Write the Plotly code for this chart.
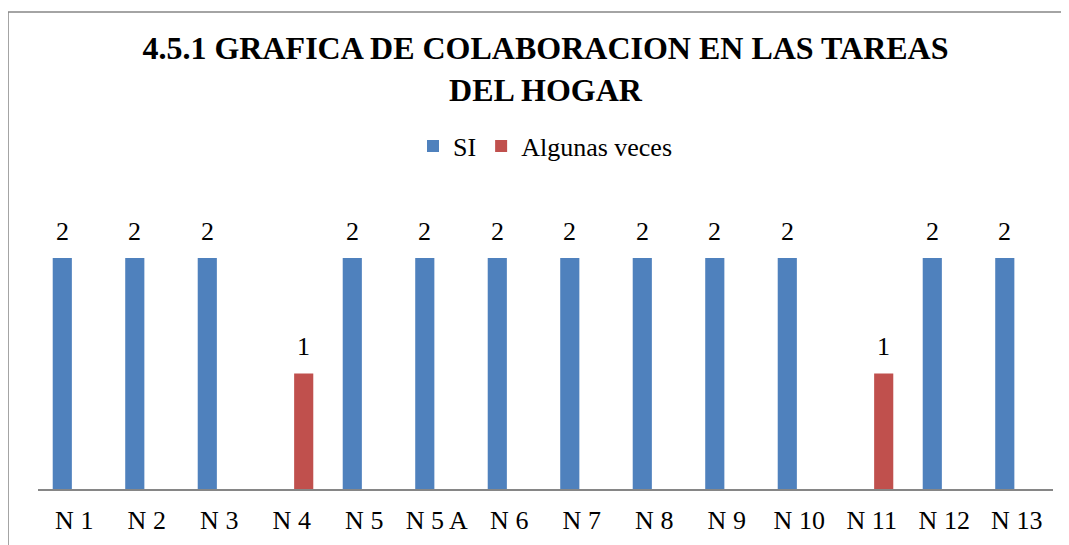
import plotly.graph_objects as go

categories = ["N 1", "N 2", "N 3", "N 4", "N 5", "N 5 A", "N 6", "N 7", "N 8", "N 9", "N 10", "N 11", "N 12", "N 13"]
si_values = [2, 2, 2, None, 2, 2, 2, 2, 2, 2, 2, None, 2, 2]
algunas_values = [None, None, None, 1, None, None, None, None, None, None, None, 1, None, None]
title_lines = ["4.5.1 GRAFICA DE COLABORACION EN LAS TAREAS", "DEL HOGAR"]

FONT = "Liberation Serif"
BLUE = "#4F81BD"
RED = "#C0504D"

# figure pixel geometry (page body has an 8px margin)
L, R, T, B = 30, 24, 142, 64
W, H = 1069, 545
PW, PH = W - L - R, H - T - B
Y_MAX = PH / 115.5

fig = go.Figure()
fig.add_trace(go.Bar(
    x=categories, y=si_values, name="SI",
    marker=dict(color=BLUE, line=dict(width=0)),
))
fig.add_trace(go.Bar(
    x=categories, y=algunas_values, name="Algunas veces",
    marker=dict(color=RED, line=dict(width=0)),
))

annotations = []
for series, shift in ((si_values, -12), (algunas_values, 12)):
    for cat, val in zip(categories, series):
        if val is None:
            continue
        annotations.append(dict(
            x=cat, y=val, xref="x", yref="y", text=str(val), showarrow=False,
            xshift=shift, yshift=27, yanchor="middle",
            font=dict(family=FONT, size=26, color="black"),
        ))

fig.update_layout(
    width=W, height=H,
    margin=dict(l=L, r=R, t=T, b=B),
    paper_bgcolor="white", plot_bgcolor="white",
    barmode="group", bargap=0.34, bargroupgap=0.2,
    font=dict(family=FONT, color="black"),
    title=dict(
        text="<b>" + "<br>".join(title_lines) + "</b>",
        x=0.5, xref="paper", xanchor="center",
        y=1 - 51 / H, yref="container", yanchor="middle",
        font=dict(family=FONT, size=32, color="black"),
    ),
    showlegend=True,
    legend=dict(
        orientation="h", x=0.5, xanchor="center",
        y=(H - B - 138) / PH, yanchor="middle",
        font=dict(family=FONT, size=26, color="black"),
        traceorder="normal", itemclick=False,
    ),
    xaxis=dict(
        type="category", showline=True, linecolor="#868686", linewidth=2,
        showgrid=False, zeroline=False, ticks="",
        tickfont=dict(family=FONT, size=26, color="black"),
        ticklabelstandoff=7,
    ),
    yaxis=dict(
        range=[0, Y_MAX], visible=False, showgrid=False, zeroline=False,
    ),
    annotations=annotations,
    shapes=[dict(
        type="rect", xref="paper", yref="paper",
        x0=(0 - L) / PW, x1=(W + 10 - L) / PW,
        y0=(H - B - (H + 20)) / PH, y1=(H - B - 4) / PH,
        line=dict(color="#868686", width=1.5), fillcolor="rgba(0,0,0,0)", layer="below",
    )],
)

fig.write_html("out.html")
